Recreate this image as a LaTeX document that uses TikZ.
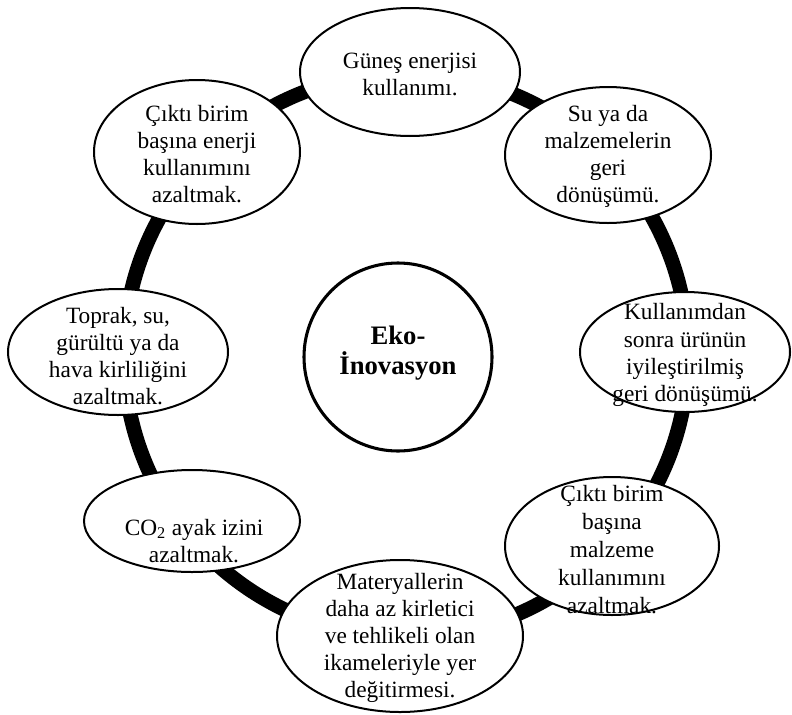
\documentclass[tikz,border=0pt]{standalone}
\usepackage{fontspec}
\setmainfont{Liberation Serif}
\usetikzlibrary{shapes.geometric}
\begin{document}
\begin{tikzpicture}[x=0.75pt,y=-0.75pt,
  bub/.style={ellipse,draw=black,line width=1.5pt,fill=white,inner sep=0pt},
  txt/.style={align=center,inner sep=0pt,font=\fontsize{17.5}{20.3}\selectfont},
  ctxt/.style={align=center,inner sep=0pt,font=\fontsize{20}{22.5}\selectfont\bfseries}]
\useasboundingbox (0,0) rectangle (792,714);
\coordinate (ringc) at (406,355);
\draw[line width=11pt] (ringc) circle [radius=282];
\node[circle,draw=black,line width=2.3pt,fill=white,minimum size=141pt,inner sep=0pt] (c) at (398,357) {};
\node[ctxt] (tc) at (398,353) {Eko-\\İnovasyon};
\node[bub,minimum width=165pt,minimum height=96pt] (e1) at (410,72) {};
\node[bub,minimum width=154.5pt,minimum height=102pt] (e2) at (608,155) {};
\node[bub,minimum width=157.5pt,minimum height=90pt] (e3) at (685,352) {};
\node[bub,minimum width=160.5pt,minimum height=103.5pt] (e4) at (612,546) {};
\node[bub,minimum width=184.5pt,minimum height=114pt] (e5) at (400,636) {};
\node[bub,minimum width=162pt,minimum height=76.5pt] (e6) at (192,521) {};
\node[bub,minimum width=165pt,minimum height=94.5pt] (e7) at (118,352) {};
\node[bub,minimum width=154.5pt,minimum height=108pt] (e8) at (197,152) {};
\node[txt] (t1) at (410,74) {Güneş enerjisi\\kullanımı.};
\node[txt] (t2) at (608,156) {Su ya da\\malzemelerin\\geri\\dönüşümü.};
\node[txt] (t3) at (685,355) {Kullanımdan\\sonra ürünün\\iyileştirilmiş\\geri dönüşümü.};
\node[txt,font=\fontsize{17.5}{21}\selectfont] (t4) at (612,550) {Çıktı birim\\başına\\malzeme\\kullanımını\\azaltmak.};
\node[txt] (t5) at (400,638) {Materyallerin\\daha az kirletici\\ve tehlikeli olan\\ikameleriyle yer\\değitirmesi.};
\node[txt] (t6) at (194,541) {CO\textsubscript{2} ayak izini\\azaltmak.};
\node[txt] (t7) at (118,356) {Toprak, su,\\gürültü ya da\\hava kirliliğini\\azaltmak.};
\node[txt] (t8) at (197,154) {Çıktı birim\\başına enerji\\kullanımını\\azaltmak.};
\end{tikzpicture}
\end{document}
